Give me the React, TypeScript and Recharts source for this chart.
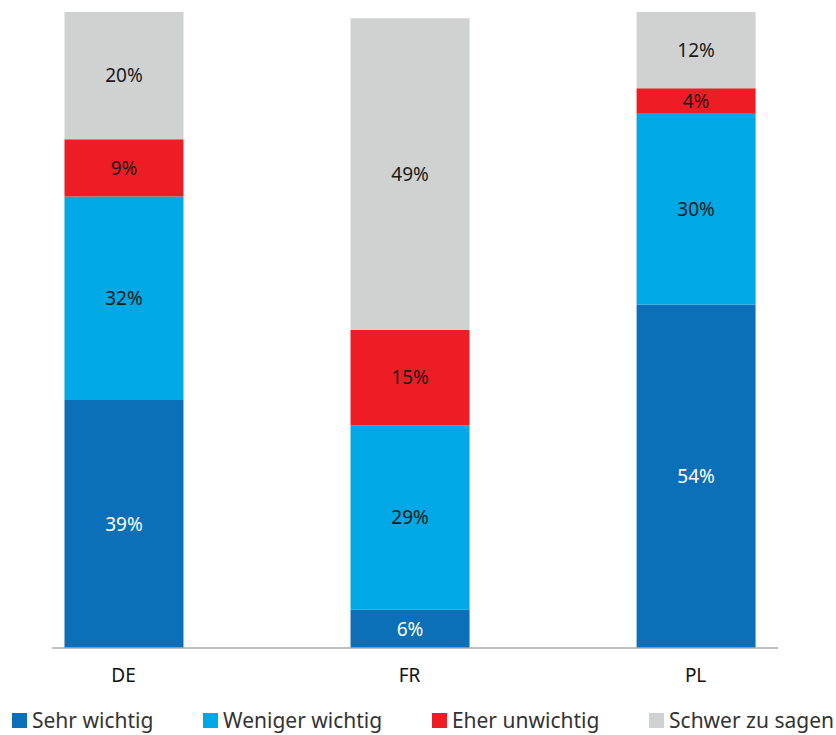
import { Bar, BarChart, LabelList, Legend, XAxis, YAxis } from "recharts";

const countries = ["DE", "FR", "PL"];
const sehrWichtig = [39, 6, 54];
const wenigerWichtig = [32, 29, 30];
const eherUnwichtig = [9, 15, 4];
const schwerZuSagen = [20, 49, 12];

const series = [
  { key: "sehr", name: "Sehr wichtig", color: "#0B70B8", text: "#ffffff" },
  { key: "weniger", name: "Weniger wichtig", color: "#00A9E6", text: "#1a1a1a" },
  { key: "eher", name: "Eher unwichtig", color: "#EE1D25", text: "#1a1a1a" },
  { key: "schwer", name: "Schwer zu sagen", color: "#D0D1D1", text: "#1a1a1a" },
];

const data = countries.map((c, i) => ({
  idx: i,
  country: c,
  sehr: sehrWichtig[i],
  weniger: wenigerWichtig[i],
  eher: eherUnwichtig[i],
  schwer: schwerZuSagen[i],
}));

const font = "'Noto Sans', 'Open Sans', sans-serif";

const CustomLegend = () => (
  <div
    style={{
      display: "flex",
      justifyContent: "space-between",
      width: 822,
      marginLeft: -40,
      paddingTop: 10,
      fontFamily: font,
      fontSize: 21,
      color: "#333",
    }}
  >
    {series.map((s) => (
      <div key={s.key} style={{ display: "flex", alignItems: "center" }}>
        <span
          style={{
            display: "inline-block",
            width: 15,
            height: 15,
            background: s.color,
            marginRight: 5,
          }}
        />
        {s.name}
      </div>
    ))}
  </div>
);

export default function App() {
  return (
    <div style={{ position: "absolute", left: 0, top: 0 }}>
      <BarChart
        width={836}
        height={735}
        data={data}
        margin={{ top: 12, right: 58, bottom: 0, left: 52 }}
      >
        <XAxis
          type="number"
          dataKey="idx"
          domain={[-0.25, 2.288]}
          ticks={[0, 1, 2]}
          tickFormatter={(v: number) => countries[v]}
          axisLine={{ stroke: "#aaaaaa", strokeWidth: 1.5 }}
          tickLine={false}
          height={48}
          tickMargin={15}
          tick={{ fontSize: 19, fill: "#111", fontFamily: font }}
        />
        <YAxis hide domain={[0, 100]} />
        <Legend verticalAlign="bottom" height={39} content={<CustomLegend />} />
        {series.map((s) => (
          <Bar
            key={s.key}
            dataKey={s.key}
            name={s.name}
            stackId="a"
            fill={s.color}
            barSize={119}
            isAnimationActive={false}
          >
            <LabelList
              dataKey={s.key}
              position="center"
              formatter={(v: number) => `${v}%`}
              fill={s.text}
              fontSize={19}
              fontFamily={font}
            />
          </Bar>
        ))}
      </BarChart>
    </div>
  );
}
